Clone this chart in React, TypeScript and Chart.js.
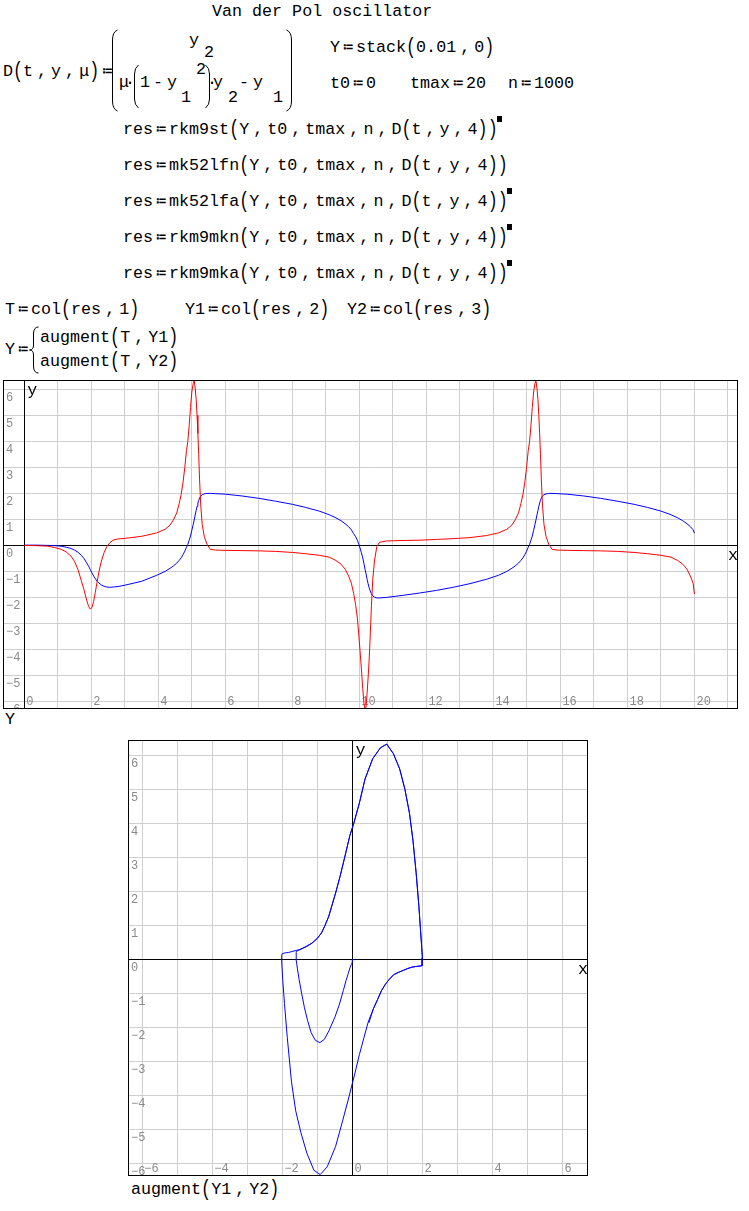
import React, { useEffect, useRef } from "react";
import { Chart, registerables } from "chart.js";

Chart.register(...registerables);

// ---- data (rkm9st solution of Van der Pol, mu = 4) ----
const T = [
  0, 0.4, 0.7, 0.9, 1.1, 1.25, 1.4, 1.5, 1.6, 1.7, 1.78, 1.86, 1.92, 1.97, 2.02, 2.07, 2.12, 2.17, 2.23, 2.3,
  2.38, 2.46, 2.55, 2.65, 2.8, 3.0, 3.5, 3.95, 4.2, 4.35, 4.45, 4.55, 4.62, 4.68, 4.74, 4.79, 4.84, 4.88, 4.92, 4.96,
  5.0, 5.04, 5.07, 5.1, 5.13, 5.155, 5.18, 5.205, 5.23, 5.265, 5.31, 5.37, 5.45, 5.55, 5.7, 6.0, 6.5, 7.0, 7.5, 8.0,
  8.4, 8.8, 9.1, 9.3, 9.45, 9.58, 9.68, 9.76, 9.83, 9.89, 9.94, 9.98, 10.02, 10.06, 10.1, 10.14, 10.17, 10.2, 10.23, 10.26,
  10.29, 10.32, 10.36, 10.4, 10.45, 10.52, 10.6, 10.8, 11.3, 11.8, 12.3, 12.8, 13.3, 13.8, 14.15, 14.4, 14.55, 14.65, 14.75, 14.82,
  14.88, 14.94, 14.99, 15.04, 15.08, 15.12, 15.16, 15.2, 15.24, 15.27, 15.3, 15.33, 15.355, 15.38, 15.405, 15.43, 15.465, 15.51, 15.57, 15.65,
  15.75, 15.9, 16.2, 16.7, 17.2, 17.7, 18.2, 18.6, 19.0, 19.3, 19.5, 19.65, 19.78, 19.88, 19.96, 20.0,
];
const Y1 = [
  0.01, 0.01, 0.0, -0.01, -0.03, -0.07, -0.12, -0.18, -0.26, -0.38, -0.5, -0.67, -0.8, -0.93, -1.06, -1.18, -1.28, -1.37, -1.45, -1.52,
  -1.57, -1.6, -1.61, -1.6, -1.58, -1.53, -1.38, -1.15, -1.0, -0.88, -0.79, -0.68, -0.58, -0.48, -0.35, -0.22, -0.07, 0.04, 0.2, 0.36,
  0.58, 0.8, 0.98, 1.17, 1.35, 1.5, 1.63, 1.73, 1.82, 1.9, 1.95, 1.98, 2.0, 2.0, 1.99, 1.97, 1.9, 1.81, 1.7, 1.58,
  1.46, 1.32, 1.18, 1.06, 0.95, 0.83, 0.72, 0.6, 0.45, 0.33, 0.2, 0.06, -0.1, -0.28, -0.48, -0.72, -0.92, -1.1, -1.3, -1.47,
  -1.62, -1.74, -1.86, -1.94, -1.99, -2.02, -2.02, -2.0, -1.92, -1.83, -1.73, -1.61, -1.47, -1.3, -1.15, -1.0, -0.88, -0.79, -0.68, -0.58,
  -0.48, -0.35, -0.22, -0.07, 0.04, 0.2, 0.36, 0.58, 0.8, 0.98, 1.17, 1.35, 1.5, 1.63, 1.73, 1.82, 1.9, 1.95, 1.98, 2.0,
  2.0, 1.99, 1.97, 1.9, 1.81, 1.7, 1.58, 1.46, 1.32, 1.18, 1.06, 0.95, 0.83, 0.72, 0.6, 0.47,
];
const Y2 = [
  0, -0.01, -0.03, -0.08, -0.15, -0.25, -0.42, -0.62, -0.92, -1.35, -1.7, -2.1, -2.35, -2.45, -2.38, -2.15, -1.8, -1.42, -1.0, -0.6,
  -0.28, -0.05, 0.1, 0.2, 0.25, 0.27, 0.35, 0.48, 0.62, 0.78, 0.98, 1.25, 1.6, 1.95, 2.45, 3.0, 3.65, 4.0, 4.6, 5.3,
  5.9, 6.22, 6.33, 6.05, 5.6, 5.0, 4.3, 3.5, 2.55, 1.55, 0.8, 0.35, 0.05, -0.15, -0.18, -0.19, -0.2, -0.21, -0.23, -0.27,
  -0.32, -0.38, -0.45, -0.58, -0.72, -0.92, -1.18, -1.45, -1.85, -2.3, -2.8, -3.4, -4.05, -4.75, -5.5, -6.1, -6.33, -6.2, -5.7, -5.1,
  -4.45, -3.6, -2.3, -1.3, -0.6, -0.05, 0.12, 0.17, 0.19, 0.2, 0.23, 0.26, 0.3, 0.38, 0.48, 0.62, 0.78, 0.98, 1.25, 1.6,
  1.95, 2.45, 3.0, 3.65, 4.0, 4.6, 5.3, 5.9, 6.22, 6.33, 6.05, 5.6, 5.0, 4.3, 3.5, 2.55, 1.55, 0.8, 0.35, 0.05,
  -0.15, -0.18, -0.19, -0.2, -0.21, -0.23, -0.27, -0.32, -0.38, -0.45, -0.58, -0.72, -0.92, -1.18, -1.45, -1.87,
];

// tick labels and grid values
const TIME_X_LABELS = [0, 2, 4, 6, 8, 10, 12, 14, 16, 18, 20];
const TIME_Y_LABELS = [6, 5, 4, 3, 2, 1, 0, -1, -2, -3, -4, -5, -6];
const TIME_X_GRID = [0, 1, 2, 3, 4, 5, 6, 7, 8, 9, 10, 11, 12, 13, 14, 15, 16, 17, 18, 19, 20, 21];
const TIME_Y_GRID = [-6, -5, -4, -3, -2, -1, 0, 1, 2, 3, 4, 5, 6];
const PHASE_X_LABELS = [-6, -4, -2, 0, 2, 4, 6];
const PHASE_Y_LABELS = [6, 5, 4, 3, 2, 1, 0, -1, -2, -3, -4, -5, -6];
const PHASE_X_GRID = [-6, -5, -4, -3, -2, -1, 0, 1, 2, 3, 4, 5, 6];
const PHASE_Y_GRID = [-6, -5, -4, -3, -2, -1, 0, 1, 2, 3, 4, 5, 6];

const MONO = "'Liberation Mono', 'DejaVu Sans Mono', monospace";
const CANVAS_MONO = '"Liberation Mono", "DejaVu Sans Mono", monospace';
const FS = 16.7;

const fmt = (v: number) => (v < 0 ? "\u2212" + Math.abs(v) : String(v));
const align = (p: number) => Math.round(p - 0.5) + 0.5;

function smathPlugin(xLabels: number[], yLabels: number[]) {
  return {
    id: "smathDecor",
    beforeDatasetsDraw(chart: any) {
      const { ctx, chartArea, scales } = chart;
      const xs = scales.x;
      const ys = scales.y;
      ctx.save();
      // axes through zero
      ctx.strokeStyle = "#000";
      ctx.lineWidth = 1;
      const x0 = align(xs.getPixelForValue(0));
      const y0 = align(ys.getPixelForValue(0));
      ctx.beginPath();
      ctx.moveTo(x0, chartArea.top);
      ctx.lineTo(x0, chartArea.bottom);
      ctx.moveTo(chartArea.left, y0);
      ctx.lineTo(chartArea.right, y0);
      ctx.stroke();
      // tick labels
      ctx.font = "12px " + CANVAS_MONO;
      ctx.fillStyle = "#8a8a8a";
      ctx.textAlign = "left";
      ctx.textBaseline = "alphabetic";
      for (const v of yLabels) {
        ctx.fillText(fmt(v), chartArea.left + 3, ys.getPixelForValue(v) + 12);
      }
      for (const v of xLabels) {
        ctx.fillText(fmt(v), xs.getPixelForValue(v) + 2, chartArea.bottom - 4);
      }
      // axis names
      ctx.font = FS + "px " + CANVAS_MONO;
      ctx.fillStyle = "#000";
      ctx.fillText("y", xs.getPixelForValue(0) + 3, chartArea.top + 15);
      ctx.textAlign = "right";
      ctx.fillText("x", chartArea.right, ys.getPixelForValue(0) + 15);
      ctx.restore();
    },
    afterDraw(chart: any) {
      const { ctx, width, height } = chart;
      ctx.save();
      ctx.strokeStyle = "#000";
      ctx.lineWidth = 1;
      ctx.strokeRect(0.5, 0.5, width - 1, height - 1);
      ctx.restore();
    },
  };
}

type PlotProps = {
  left: number; top: number; width: number; height: number;
  datasets: any[];
  xMin: number; xMax: number; yMin: number; yMax: number;
  xGrid: number[]; yGrid: number[]; xLabels: number[]; yLabels: number[];
};

function SmathPlot(p: PlotProps) {
  const ref = useRef<HTMLCanvasElement>(null);
  useEffect(() => {
    const axis = (min: number, max: number, grid: number[]) => ({
      type: "linear",
      min,
      max,
      afterBuildTicks: (s: any) => {
        s.ticks = grid.map((v) => ({ value: v }));
      },
      ticks: { display: false },
      border: { display: false },
      grid: { drawTicks: false, lineWidth: 1, color: "#cfcfcf" },
    });
    const chart = new Chart(ref.current as HTMLCanvasElement, {
      type: "scatter",
      data: { datasets: p.datasets },
      options: {
        animation: false,
        responsive: false,
        devicePixelRatio: 1,
        events: [],
        layout: { padding: 0 },
        plugins: { legend: { display: false }, tooltip: { enabled: false }, title: { display: false } },
        elements: { point: { radius: 0 }, line: { tension: 0 } },
        scales: { x: axis(p.xMin, p.xMax, p.xGrid), y: axis(p.yMin, p.yMax, p.yGrid) } as any,
      },
      plugins: [smathPlugin(p.xLabels, p.yLabels)],
    });
    return () => chart.destroy();
  }, []);
  return (
    <canvas
      ref={ref}
      width={p.width}
      height={p.height}
      style={{ position: "absolute", left: p.left, top: p.top, width: p.width, height: p.height }}
    />
  );
}

const A = () => (
  <span style={{ display: "inline-block", width: 16, textAlign: "center" }}>{"\u2254"}</span>
);
const P = ({ c }: { c: string }) => (
  <span style={{ display: "inline-block", transform: "scale(1, 1.3)" }}>{c}</span>
);
const Sq = () => (
  <span
    style={{ display: "inline-block", width: 5, height: 6, background: "#000", position: "relative", top: -12, marginLeft: -1 }}
  />
);

function Line({ x, cy, children, ws = -6, size = FS }: { x: number; cy: number; children: any; ws?: number; size?: number }) {
  return (
    <div
      style={{
        position: "absolute",
        left: x,
        top: cy - 10,
        height: 20,
        lineHeight: "20px",
        fontFamily: MONO,
        fontSize: size,
        whiteSpace: "pre",
        wordSpacing: ws,
        color: "#000",
      }}
    >
      {children}
    </div>
  );
}

function ResLine({ cy, name, mark }: { cy: number; name: string; mark: boolean }) {
  return (
    <Line x={123} cy={cy}>
      res<A />{name}<P c="(" />Y , t0 , tmax , n , D<P c="(" />t , y , 4<P c=")" /><P c=")" />
      {mark ? <Sq /> : null}
    </Line>
  );
}

export default function App() {
  const timeSets = [
    {
      data: T.map((t, i) => ({ x: t, y: Y2[i] })),
      borderColor: "#ff0000",
      borderWidth: 1,
      showLine: true,
      pointRadius: 0,
      fill: false,
    },
    {
      data: T.map((t, i) => ({ x: t, y: Y1[i] })),
      borderColor: "#0000ff",
      borderWidth: 1,
      showLine: true,
      pointRadius: 0,
      fill: false,
    },
  ];
  const phaseSets = [
    {
      data: T.map((_, i) => ({ x: Y1[i], y: Y2[i] })),
      borderColor: "#0000ff",
      borderWidth: 1,
      showLine: true,
      pointRadius: 0,
      fill: false,
    },
  ];
  return (
    <div style={{ position: "absolute", left: 0, top: 0, width: 749, height: 1211, background: "#fff", overflow: "hidden" }}>
      <Line x={212} cy={12} ws={0}>Van der Pol oscillator</Line>

      <Line x={3} cy={72}>D<P c="(" />t , y , μ<P c=")" /><A /></Line>
      {/* matrix, row 1 */}
      <Line x={189} cy={41}>y</Line>
      <Line x={204} cy={53}>2</Line>
      {/* matrix, row 2 */}
      <Line x={119} cy={83}>μ</Line>
      <Line x={125} cy={83}>·</Line>
      <Line x={140} cy={83}>1</Line>
      <Line x={153} cy={83}>-</Line>
      <Line x={167} cy={83}>y</Line>
      <Line x={181} cy={98}>1</Line>
      <Line x={196} cy={70}>2</Line>
      <Line x={207} cy={83}>·</Line>
      <Line x={213} cy={83}>y</Line>
      <Line x={228} cy={98}>2</Line>
      <Line x={239} cy={83}>-</Line>
      <Line x={253} cy={83}>y</Line>
      <Line x={273} cy={98}>1</Line>

      <Line x={330} cy={48}>Y<A />stack<P c="(" />0.01 , 0<P c=")" /></Line>
      <Line x={330} cy={84}>t0<A />0</Line>
      <Line x={410} cy={84}>tmax<A />20</Line>
      <Line x={508} cy={84}>n<A />1000</Line>

      <ResLine cy={130} name="rkm9st" mark={true} />
      <ResLine cy={166} name="mk52lfn" mark={false} />
      <ResLine cy={202} name="mk52lfa" mark={true} />
      <ResLine cy={238} name="rkm9mkn" mark={true} />
      <ResLine cy={274} name="rkm9mka" mark={true} />

      <Line x={5} cy={310}>T<A />col<P c="(" />res , 1<P c=")" /></Line>
      <Line x={185} cy={310}>Y1<A />col<P c="(" />res , 2<P c=")" /></Line>
      <Line x={347} cy={310}>Y2<A />col<P c="(" />res , 3<P c=")" /></Line>

      <Line x={5} cy={350}>Y<A /></Line>
      <Line x={40} cy={338}>augment<P c="(" />T , Y1<P c=")" /></Line>
      <Line x={40} cy={362}>augment<P c="(" />T , Y2<P c=")" /></Line>

      <svg
        width={749}
        height={1211}
        style={{ position: "absolute", left: 0, top: 0, pointerEvents: "none" }}
      >
        <g fill="none" stroke="#000" strokeWidth={1}>
          {/* matrix brackets */}
          <path d="M117.5,30 Q112.5,32 112.5,40 L112.5,101 Q112.5,109 117.5,111" />
          <path d="M286.5,30 Q291.5,32 291.5,40 L291.5,101 Q291.5,109 286.5,111" />
          {/* inner parens */}
          <path d="M138.5,65 Q134.5,68 134.5,74 L134.5,99 Q134.5,105 138.5,108" />
          <path d="M205.5,65 Q209.5,68 209.5,74 L209.5,99 Q209.5,105 205.5,108" />
          {/* brace */}
          <path d="M38.5,327 Q33.5,327 33.5,334 L33.5,345 Q33.5,350 29.5,350 Q33.5,350 33.5,355 L33.5,366 Q33.5,373 38.5,373" />
        </g>
      </svg>

      <SmathPlot
        left={3}
        top={380}
        width={735}
        height={329}
        datasets={timeSets}
        xMin={-0.636}
        xMax={21.3}
        yMin={-6.29}
        yMax={6.36}
        xGrid={TIME_X_GRID}
        yGrid={TIME_Y_GRID}
        xLabels={TIME_X_LABELS}
        yLabels={TIME_Y_LABELS}
      />
      <Line x={5} cy={720}>Y</Line>

      <SmathPlot
        left={128}
        top={740}
        width={460}
        height={436}
        datasets={phaseSets}
        xMin={-6.41}
        xMax={6.73}
        yMin={-6.37}
        yMax={6.45}
        xGrid={PHASE_X_GRID}
        yGrid={PHASE_Y_GRID}
        xLabels={PHASE_X_LABELS}
        yLabels={PHASE_Y_LABELS}
      />
      <Line x={131} cy={1190}>augment<P c="(" />Y1 , Y2<P c=")" /></Line>
    </div>
  );
}
